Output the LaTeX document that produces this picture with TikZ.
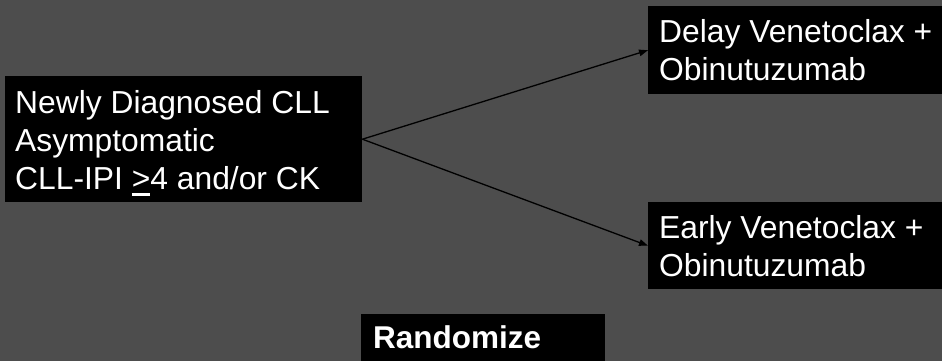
\documentclass[tikz,border=0pt]{standalone}
\usepackage{fontspec}
\setmainfont{Liberation Sans}
\usetikzlibrary{arrows.meta}
\definecolor{slide}{HTML}{4D4D4D}
% underlined "greater than", used as "greater or equal"
\newcommand\ulgt{\setbox0\hbox{>}\rlap{\rule[-6.5pt]{\wd0}{2.4pt}}\box0\relax}
\tikzset{
  box/.style={fill=black, draw=none, inner sep=0pt, anchor=north west},
  txt/.style={text=white, inner sep=0pt, anchor=base west, font=\fontsize{31.8}{38}\selectfont},
  btxt/.style={txt, font=\fontsize{31.5}{38}\selectfont\bfseries},
  link/.style={draw=black, line width=1.3pt, -{Triangle[length=9pt,width=6.5pt]}}
}
\begin{document}
\begin{tikzpicture}[x=1pt, y=-1pt]
  \fill[slide] (0,0) rectangle (942,361);
  \useasboundingbox (0,0) rectangle (942,361);

  % patient group
  \node (leftbox) [box, minimum width=357pt, minimum height=126pt] at (5,76) {};
  \node (l1) [txt] at (15,113) {Newly Diagnosed CLL};
  \node (l2) [txt] at (15,151) {Asymptomatic};
  \node (l3) [txt] at (15,189) {CLL-IPI \ulgt{}4 and/or CK};

  % delayed arm
  \node (delaybox) [box, minimum width=294pt, minimum height=88pt] at (648,6) {};
  \node (d1) [txt] at (659,43) {Delay Venetoclax +};
  \node (d2) [txt] at (659,81) {Obinutuzumab};

  % early arm
  \node (earlybox) [box, minimum width=294pt, minimum height=87pt] at (648,202) {};
  \node (e1) [txt] at (659,238) {Early Venetoclax +};
  \node (e2) [txt] at (659,276) {Obinutuzumab};

  % randomisation label
  \node (randbox) [box, minimum width=244pt, minimum height=47pt] at (361,314) {};
  \node (r1) [btxt] at (373,348) {Randomize};

  % branches
  \draw[link] (leftbox.east) -- (delaybox.west);
  \draw[link] (leftbox.east) -- (earlybox.west);
\end{tikzpicture}
\end{document}
